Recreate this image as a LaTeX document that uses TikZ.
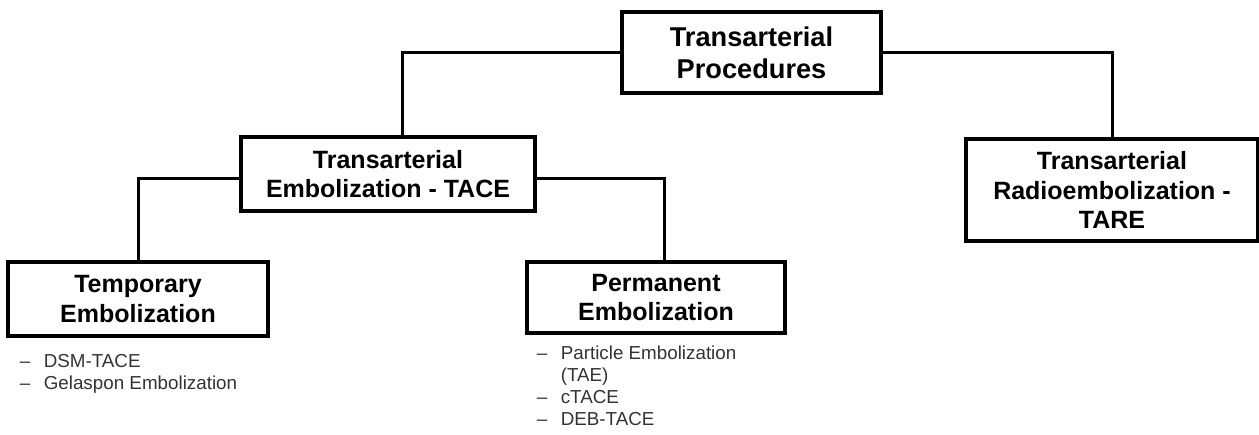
\documentclass[tikz,border=0pt]{standalone}
\usepackage{fontspec}
\setmainfont{Liberation Sans}
\usepackage{tikz}
\usetikzlibrary{positioning}

\newcommand{\listdash}{\makebox[12pt][l]{--}}

\begin{document}
\begin{tikzpicture}[x=0.5pt,y=-0.5pt,
    box/.style={draw,line width=1.6pt,align=center,inner sep=0pt,
      font=\fontsize{12.5}{14.8}\selectfont\bfseries},
    link/.style={line width=1.5pt},
    itemlist/.style={align=left,inner sep=0pt,text=black!80,
      font=\fontsize{9.4}{11}\selectfont}]
  \useasboundingbox (0,0) rectangle (1259,434);
  % boxes
  \node[box,minimum width=129.5pt,minimum height=40.5pt,
    font=\fontsize{13.6}{16}\selectfont\bfseries] (proc) at (751.5,52.5) {Transarterial\\Procedures};
  \node[box,minimum width=147pt,minimum height=37pt] (tace) at (388,174) {Transarterial\\Embolization - TACE};
  \node[box,minimum width=146pt,minimum height=51pt] (tare) at (1112,190) {Transarterial\\Radioembolization -\\TARE};
  \node[box,minimum width=130pt,minimum height=37pt] (temp) at (138,299) {Temporary\\Embolization};
  \node[box,minimum width=129pt,minimum height=35.5pt] (perm) at (656,297.5) {Permanent\\Embolization};
  % lists
  \node[itemlist,below right=8pt and 6.5pt of temp.south west] (templist)
    {\listdash DSM-TACE\\\listdash Gelaspon Embolization};
  \node[itemlist,below right=5.5pt and 5.5pt of perm.south west] (permlist)
    {\listdash Particle Embolization\\\hphantom{\listdash}(TAE)\\\listdash cTACE\\\listdash DEB-TACE};
  % links
  \draw[link] (proc.west) -| ([xshift=7pt]tace.north);
  \draw[link] (proc.east) -| (tare.north);
  \draw[link] ([yshift=-2pt]tace.west) -| (temp.north);
  \draw[link] ([yshift=-2pt]tace.east) -| ([xshift=4pt]perm.north);
\end{tikzpicture}
\end{document}
